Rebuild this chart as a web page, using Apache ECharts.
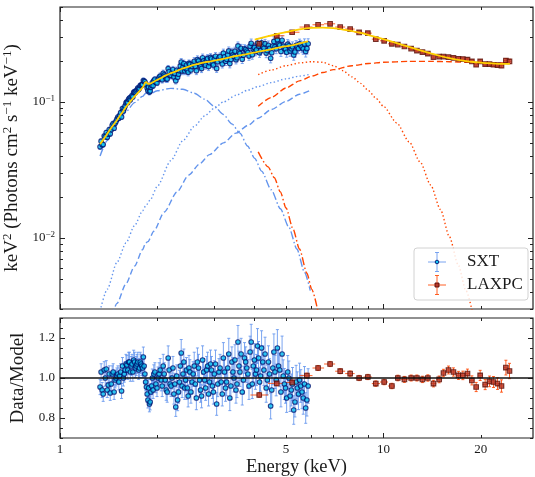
<!DOCTYPE html>
<html><head><meta charset="utf-8">
<script src="https://cdn.jsdelivr.net/npm/echarts@6/dist/echarts.min.js"></script>
<style>html,body{margin:0;padding:0;background:#fff}#c{width:535px;height:477px}</style>
</head><body><div id="c"></div>
<script>
// ---------------- data ----------------
const sxtE = [1.33,1.34,1.35,1.36,1.37,1.38,1.39,1.40,1.41,1.42,1.43,1.44,1.45,1.46,1.47,1.48,1.49,1.50,1.51,1.52,1.53,1.54,1.55,1.56,1.57,1.58,1.59,1.60,1.61,1.62,1.63,1.64,1.65,1.66,1.67,1.68,1.69,1.70,1.71,1.72,1.73,1.74,1.75,1.76,1.77,1.78,1.79,1.80,1.81,1.82,1.83,1.84,1.85,1.86,1.87,1.88,1.89,1.90,1.91,1.92,1.93,1.94,1.95,
1.965,1.98,1.995,2.01,2.025,2.04,2.055,2.07,2.085,2.10,2.115,2.13,2.145,2.16,2.175,2.19,2.205,2.22,2.235,2.25,2.265,2.28,2.295,2.31,2.325,2.34,2.355,2.37,2.385,2.40,2.415,2.43,2.445,2.46,2.475,2.49,2.505,2.52,
2.54,2.56,2.58,2.60,2.62,2.64,2.66,2.68,2.70,2.72,2.74,2.76,2.78,2.80,2.82,2.84,2.86,2.88,2.90,2.92,2.94,2.96,2.98,3.00,
3.025,3.05,3.075,3.10,3.125,3.15,3.175,3.20,3.225,3.25,3.275,3.30,3.325,3.35,3.375,3.40,3.425,3.45,3.475,3.50,3.525,3.55,3.575,3.60,
3.63,3.66,3.69,3.72,3.75,3.78,3.81,3.84,3.87,3.90,3.93,3.96,3.99,4.02,4.05,4.08,4.11,4.14,4.17,4.20,
4.235,4.27,4.305,4.34,4.375,4.41,4.445,4.48,4.515,4.55,4.585,4.62,
4.66,4.70,4.74,4.78,4.82,4.86,4.90,4.94,4.98,5.02,5.06,5.10,
5.145,5.19,5.235,5.28,5.325,5.37,5.415,5.46,5.505,5.55,
5.60,5.65,5.70,5.75,5.80,5.85];
const sxtFlux = [0.0468,0.0515,0.0484,0.0486,0.0562,0.0555,0.0596,0.0550,0.0579,0.0627,0.0583,0.0626,0.0673,0.0695,0.0642,0.0698,0.0720,0.0747,0.0775,0.0760,0.0798,0.0834,0.0776,0.0896,0.0860,0.0898,0.0936,0.0984,0.1001,0.0993,0.1048,0.1069,0.1040,0.1087,0.1113,0.1092,0.1177,0.1188,0.1176,0.1203,0.1231,0.1264,0.1238,0.1265,0.1318,0.1327,0.1336,0.1344,0.1437,0.1420,0.1408,0.1362,0.1337,0.1270,0.1210,0.1292,0.1183,0.1206,0.1283,0.1330,0.1390,0.1316,0.1438,
0.1468,0.1397,0.1382,0.1470,0.1510,0.1550,0.1490,0.1459,0.1627,0.1581,0.1544,0.1476,0.1474,0.1760,0.1674,0.1571,0.1565,0.1640,0.1733,0.1527,0.1620,0.1436,0.1712,0.1522,0.1600,0.1695,0.1844,0.1969,0.1690,0.1805,0.1917,0.1691,0.1772,0.1872,0.1720,0.1656,0.1922,0.1895,
0.1721,0.1823,0.1907,0.1993,0.1828,0.1701,0.2052,0.2006,0.1901,0.1814,0.1761,0.2115,0.2009,0.1940,0.1867,0.2049,0.2094,0.1822,0.1945,0.2129,0.2080,0.1930,0.1874,0.2060,
0.2167,0.1766,0.1979,0.2112,0.2158,0.2019,0.1904,0.2288,0.2153,0.1995,0.2063,0.2216,0.2374,0.1917,0.2054,0.2322,0.2220,0.2160,0.2365,0.2049,0.2119,0.2584,0.2332,0.2276,
0.2481,0.2065,0.2208,0.2464,0.2430,0.2373,0.2310,0.2179,0.2576,0.2702,0.2231,0.2449,0.2523,0.2366,0.2423,0.2714,0.2580,0.2303,0.2384,0.2726,
0.2570,0.2486,0.2688,0.2290,0.2391,0.2614,0.2479,0.2098,0.2303,0.2583,0.2791,0.2554,
0.2465,0.2875,0.2661,0.2621,0.2353,0.2845,0.2576,0.2483,0.2442,0.2322,0.2663,0.2590,
0.2371,0.2463,0.2551,0.2218,0.2332,0.2607,0.2541,0.2475,0.2673,0.2602,
0.2534,0.2466,0.2672,0.2355,0.2474,0.2678];
const sxtRatio = [0.955,1.03,0.94,0.92,1.04,1.0,1.045,0.94,0.965,1.02,0.925,0.97,1.02,1.03,0.93,0.99,1.0,1.01,1.02,0.98,1.01,1.03,0.935,1.06,1.0,1.02,1.04,1.07,1.065,1.04,1.08,1.08,1.03,1.06,1.07,1.03,1.09,1.08,1.05,1.06,1.07,1.08,1.04,1.05,1.08,1.07,1.06,1.05,1.105,1.06,1.02,0.98,0.955,0.92,0.89,0.95,0.87,0.88,0.93,0.96,1.0,0.94,1.02,
1.03,0.97,0.95,1.0,1.02,1.04,0.99,0.96,1.06,1.02,0.99,0.94,0.93,1.10,1.04,0.97,0.96,1.0,1.05,0.92,0.97,0.855,1.01,0.89,0.93,0.98,1.06,1.125,0.96,1.02,1.08,0.95,0.99,1.04,0.95,0.91,1.05,1.03,
0.93,0.98,1.02,1.06,0.97,0.90,1.08,1.05,0.99,0.94,0.91,1.09,1.03,0.99,0.95,1.04,1.06,0.92,0.98,1.07,1.04,0.96,0.93,1.02,
1.07,0.87,0.97,1.03,1.05,0.98,0.92,1.10,1.03,0.95,0.98,1.05,1.12,0.90,0.96,1.08,1.03,1.0,1.09,0.94,0.97,1.18,1.06,1.03,
1.12,0.93,0.99,1.10,1.08,1.05,1.02,0.96,1.13,1.18,0.97,1.06,1.09,1.02,1.04,1.16,1.10,0.98,1.01,1.15,
1.08,1.04,1.12,0.95,0.99,1.08,1.02,0.86,0.94,1.05,1.13,1.03,
0.99,1.15,1.06,1.04,0.93,1.12,1.01,0.97,0.95,0.90,1.03,1.0,
0.91,0.94,0.97,0.84,0.88,0.98,0.95,0.92,0.99,0.96,
0.93,0.90,0.97,0.85,0.89,0.96];
// SXT relative 1-sigma errors per energy band (upper band edges in keV, last band open)
const sxtErrBandTop = [1.6, 2.0, 2.3, 2.6, 3.2, 3.9, 4.5, 5.1, 5.6];
const sxtErrBandVal = [0.04, 0.045, 0.055, 0.06, 0.065, 0.07, 0.075, 0.08, 0.085, 0.09];

const laxpcE = [4.13,4.68,5.22,5.80,6.28,6.84,7.35,7.89,8.41,8.95,9.47,10.05,10.62,11.08,11.61,12.18,12.69,13.20,13.72,14.28,14.87,15.33,15.89,16.46,17.06,17.60,18.19,18.77,19.35,19.91,20.63,21.28,21.89,22.53,23.17,23.91,24.53];
const laxpcFlux = [0.268,0.307,0.326,0.356,0.370,0.376,0.356,0.344,0.325,0.321,0.290,0.282,0.268,0.264,0.256,0.247,0.239,0.233,0.227,0.214,0.216,0.216,0.214,0.211,0.208,0.207,0.205,0.199,0.188,0.199,0.190,0.190,0.188,0.187,0.185,0.202,0.199];
const laxpcRatio = [0.915,0.973,0.978,1.012,1.05,1.07,1.034,1.022,1.0,1.005,0.972,0.98,0.96,1.0,0.993,1.0,1.0,0.993,1.0,0.972,0.993,1.025,1.04,1.03,1.013,1.013,1.022,0.988,0.955,1.013,0.967,0.983,0.98,0.972,0.96,1.052,1.035];
const laxpcRelErr = [0.012,0.012,0.012,0.012,0.012,0.012,0.012,0.013,0.013,0.013,0.014,0.014,0.014,0.014,0.015,0.015,0.015,0.016,0.016,0.017,0.017,0.018,0.019,0.02,0.02,0.021,0.022,0.023,0.024,0.025,0.026,0.027,0.028,0.03,0.032,0.035,0.037];

// total model curves
const sxtModelE = [1.33,1.37,1.41,1.45,1.49,1.53,1.57,1.61,1.65,1.69,1.73,1.77,1.81,1.83,1.85,1.87,1.89,1.93,1.98,2.04,2.10,2.19,2.28,2.37,2.46,2.56,2.68,2.80,2.92,3.05,3.20,3.35,3.50,3.66,3.84,4.02,4.20,4.41,4.62,4.86,5.10,5.37,5.65,5.85];
const sxtModelF = [0.049,0.054,0.060,0.066,0.072,0.079,0.086,0.094,0.101,0.108,0.115,0.122,0.130,0.138,0.140,0.136,0.136,0.139,0.144,0.149,0.155,0.162,0.168,0.175,0.180,0.186,0.191,0.196,0.199,0.203,0.208,0.213,0.218,0.222,0.227,0.232,0.237,0.242,0.248,0.254,0.259,0.266,0.274,0.279];
const laxpcModelE = [4.0,4.5,5.0,5.5,6.0,6.5,7.0,7.5,8.0,8.5,9.0,9.5,10,11,12,13,14,15,16,17,18,19,20,21,22,23,24,24.6];
const laxpcModelF = [0.288,0.309,0.327,0.342,0.351,0.353,0.349,0.341,0.332,0.322,0.311,0.300,0.290,0.271,0.254,0.240,0.228,0.218,0.210,0.204,0.200,0.197,0.195,0.193,0.192,0.191,0.191,0.191];

// model components
const sxtDiskE = [1.33,1.40,1.45,1.53,1.60,1.70,1.80,1.84,1.87,2.0,2.2,2.4,2.6,2.8,3.0,3.2,3.4,3.6,3.8,4.0,4.2,4.5,4.8,5.1,5.4,5.7,5.94];
const sxtDiskF = [0.040,0.052,0.061,0.074,0.085,0.099,0.110,0.116,0.113,0.121,0.126,0.124,0.116,0.105,0.093,0.081,0.069,0.059,0.0475,0.0385,0.031,0.0226,0.0164,0.0120,0.0083,0.0056,0.0041];
const sxtDotE = [1.33,1.40,1.50,1.60,1.70,1.80,1.84,1.90,2.0,2.2,2.4,2.6,2.8,3.0,3.2,3.5,3.8,4.1,4.5,5.0,5.5,5.94];
const sxtDotF = [0.0029,0.0042,0.0066,0.0092,0.0123,0.0158,0.0172,0.0190,0.0240,0.037,0.052,0.066,0.079,0.090,0.100,0.112,0.122,0.130,0.139,0.148,0.155,0.160];
const sxtDashE = [1.45,1.50,1.60,1.70,1.80,1.84,1.87,1.95,2.1,2.3,2.5,2.7,2.9,3.2,3.5,3.8,4.1,4.5,5.0,5.5,5.94];
const sxtDashF = [0.0027,0.0033,0.0046,0.0062,0.0082,0.0092,0.0094,0.0112,0.0155,0.0218,0.029,0.035,0.041,0.050,0.059,0.067,0.076,0.088,0.101,0.114,0.122];
const laxDiskE = [4.1,4.4,4.6,4.8,5.0,5.25,5.5,5.8,6.0,6.3];
const laxDiskF = [0.043,0.0333,0.0277,0.0218,0.0166,0.0117,0.0083,0.0055,0.0042,0.00275];
const laxDotE = [4.1,4.5,5.0,5.5,6.0,6.5,7.0,7.5,8.0,8.5,9.0,9.5,10,11,12,13,14,15,16,17,18,19];
const laxDotF = [0.159,0.172,0.185,0.194,0.198,0.196,0.185,0.170,0.153,0.137,0.121,0.106,0.093,0.070,0.051,0.036,0.0245,0.0162,0.0102,0.0064,0.0041,0.0026];
const laxDashE = [4.1,4.5,5.0,5.5,6.0,6.5,7.0,8.0,9.0,10,12,14,16,18,20,22,24.6];
const laxDashF = [0.093,0.108,0.127,0.143,0.155,0.165,0.173,0.185,0.192,0.196,0.199,0.199,0.198,0.196,0.195,0.194,0.193];

// axis ranges / ticks / labels
const xRange = [1, 29];
const fRange = [0.003, 0.5];
const rRange = [0.7, 1.3];
const xMajor = [1, 10];
const xMinor = [2,3,4,5,6,7,8,9,20];
const xLabels = [1, 5, 10, 20];
const fMajor = [0.01, 0.1];
const fMinor = [0.003,0.004,0.005,0.006,0.007,0.008,0.009,0.02,0.03,0.04,0.05,0.06,0.07,0.08,0.09,0.2,0.3,0.4,0.5];
const rMajor = [0.8, 1.0, 1.2];
const rMinor = [0.7,0.75,0.85,0.9,0.95,1.05,1.1,1.15,1.25,1.3];

// ---------------- styling ----------------
const FONT = 'Liberation Serif';
const TXT = '#1a1a1a';
const AX = '#222';
const BLUE = '#6495ED';
const RED = '#FF4500';
const GOLD = '#FFD000';
const SXT_ERR = 'rgba(100,149,237,0.85)';
const LAX_ERR = 'rgba(255,69,0,0.85)';
const SXT_FILL = '#10c8f4', SXT_EDGE = '#00106e';
const LAX_FILL = '#b8382a', LAX_EDGE = '#5a0c04';

const zip = (a, b) => a.map((v, i) => [v, b[i]]);
function edges(E) {
  const lo = [], hi = [];
  for (let i = 0; i < E.length; i++) {
    const prev = i > 0 ? E[i-1] : E[i] * E[i] / E[i+1];
    const next = i < E.length - 1 ? E[i+1] : E[i] * E[i] / E[i-1];
    lo.push(Math.sqrt(prev * E[i])); hi.push(Math.sqrt(E[i] * next));
  }
  return [lo, hi];
}
function bandLookup(E) {
  return E.map(e => { let k = 0; while (k < sxtErrBandTop.length && e >= sxtErrBandTop[k]) k++; return sxtErrBandVal[k]; });
}
const sxtRelErr = bandLookup(sxtE);
const [sxtLo, sxtHi] = edges(sxtE);
const [laxLo, laxHi] = edges(laxpcE);
const errRows = (E, V, rel, lo, hi) => E.map((e, i) => [e, V[i], V[i]*(1-rel[i]), V[i]*(1+rel[i]), lo[i], hi[i]]);

function errRender(color, cap) {
  return function (params, api) {
    const x = api.value(0), y = api.value(1);
    const a = api.coord([x, api.value(2)]);
    const b = api.coord([x, api.value(3)]);
    const c = api.coord([api.value(4), y]);
    const d = api.coord([api.value(5), y]);
    const st = {stroke: color, lineWidth: 1};
    return {type: 'group', children: [
      {type: 'line', shape: {x1: a[0], y1: a[1], x2: b[0], y2: b[1]}, style: st},
      {type: 'line', shape: {x1: a[0]-cap, y1: a[1], x2: a[0]+cap, y2: a[1]}, style: st},
      {type: 'line', shape: {x1: b[0]-cap, y1: b[1], x2: b[0]+cap, y2: b[1]}, style: st},
      {type: 'line', shape: {x1: c[0], y1: c[1], x2: d[0], y2: d[1]}, style: st}
    ]};
  };
}

function tickAxis(grid, pos, type, range, vals, len, extra) {
  const ax = {
    type: type, gridIndex: grid, position: pos, min: range[0], max: range[1],
    axisLine: {show: false, onZero: false},
    splitLine: {show: false},
    axisTick: {show: true, inside: true, length: len, customValues: vals, lineStyle: {color: AX, width: 1}},
    axisLabel: {show: false},
    silent: true
  };
  if (type === 'log') ax.logBase = 10;
  return Object.assign(ax, extra || {});
}

const supRich = {
  b: {fontSize: 13, fontFamily: FONT, color: TXT},
  s: {fontSize: 9, fontFamily: FONT, color: TXT, padding: [0, 0, 7, 0]}
};
const nameRich = {
  n: {fontSize: 19, fontFamily: FONT, color: TXT},
  s: {fontSize: 13, fontFamily: FONT, color: TXT, padding: [0, 0, 9, 0]}
};

const xAxes = [
  tickAxis(0, 'bottom', 'log', xRange, xMajor, 5),
  tickAxis(0, 'bottom', 'log', xRange, xMinor, 3),
  tickAxis(0, 'top', 'log', xRange, xMajor, 5),
  tickAxis(0, 'top', 'log', xRange, xMinor, 3),
  tickAxis(1, 'bottom', 'log', xRange, xMajor, 5, {
    axisLabel: {show: true, customValues: xLabels, margin: 5, fontSize: 13, fontFamily: FONT, color: TXT,
      formatter: v => String(Math.round(v))},
    name: 'Energy (keV)', nameLocation: 'middle', nameGap: 20,
    nameTextStyle: {fontSize: 18.5, fontFamily: FONT, color: TXT}
  }),
  tickAxis(1, 'bottom', 'log', xRange, xMinor, 3),
  tickAxis(1, 'top', 'log', xRange, xMajor, 5),
  tickAxis(1, 'top', 'log', xRange, xMinor, 3)
];
const yAxes = [
  tickAxis(0, 'left', 'log', fRange, fMajor, 5, {
    axisLabel: {show: true, customValues: fMajor, margin: 5,
      formatter: v => { const p = Math.round(Math.log10(v)); return '{b|10}{s|' + (p < 0 ? '\u2212' : '') + Math.abs(p) + '}'; },
      rich: supRich},
    name: '{n|keV}{s|2}{n| (Photons cm}{s|2}{n| s}{s|\u22121}{n| keV}{s|\u22121}{n|)}',
    nameLocation: 'middle', nameGap: 28, nameRotate: 90,
    nameTextStyle: {fontSize: 19, fontFamily: FONT, color: TXT, rich: nameRich}
  }),
  tickAxis(0, 'left', 'log', fRange, fMinor, 3),
  tickAxis(0, 'right', 'log', fRange, fMajor, 5),
  tickAxis(0, 'right', 'log', fRange, fMinor, 3),
  tickAxis(1, 'left', 'value', rRange, rMajor, 5, {
    axisLabel: {show: true, customValues: rMajor, margin: 5, fontSize: 13, fontFamily: FONT, color: TXT,
      formatter: v => v.toFixed(1)},
    name: 'Data/Model', nameLocation: 'middle', nameGap: 28, nameRotate: 90,
    nameTextStyle: {fontSize: 19, fontFamily: FONT, color: TXT}
  }),
  tickAxis(1, 'left', 'value', rRange, rMinor, 3),
  tickAxis(1, 'right', 'value', rRange, rMajor, 5),
  tickAxis(1, 'right', 'value', rRange, rMinor, 3)
];

function compLine(E, F, color, dash, width) {
  return {type: 'line', xAxisIndex: 0, yAxisIndex: 0, data: zip(E, F), symbol: 'none', showSymbol: false,
    smooth: 0.25, smoothMonotone: 'x', clip: true, silent: true, z: 2,
    lineStyle: {color: color, width: width || 1.4, type: dash}};
}
function markers(xi, yi, E, V, sym, fill, edge) {
  return {type: 'scatter', xAxisIndex: xi, yAxisIndex: yi, data: zip(E, V), symbol: sym, symbolSize: 4.6,
    itemStyle: {color: fill, borderColor: edge, borderWidth: 1.1}, silent: true, z: 4};
}
function errSeries(xi, yi, rows, color, extra) {
  return Object.assign({type: 'custom', xAxisIndex: xi, yAxisIndex: yi, clip: true, silent: true, z: 3,
    data: rows, encode: {x: 0, y: 1}, renderItem: errRender(color, 1.5)}, extra || {});
}

const series = [
  compLine(sxtDiskE, sxtDiskF, BLUE, [8, 2.5, 1.5, 2.5]),
  compLine(sxtDotE, sxtDotF, BLUE, [1.4, 2.4]),
  compLine(sxtDashE, sxtDashF, BLUE, [6, 3]),
  compLine(laxDiskE, laxDiskF, RED, [8, 2.5, 1.5, 2.5]),
  compLine(laxDotE, laxDotF, RED, [1.4, 2.4]),
  compLine(laxDashE, laxDashF, RED, [6, 3]),
  errSeries(0, 0, errRows(sxtE, sxtFlux, sxtRelErr, sxtLo, sxtHi), SXT_ERR),
  errSeries(0, 0, errRows(laxpcE, laxpcFlux, laxpcRelErr, laxLo, laxHi), LAX_ERR),
  markers(0, 0, sxtE, sxtFlux, 'circle', SXT_FILL, SXT_EDGE),
  markers(0, 0, laxpcE, laxpcFlux, 'rect', LAX_FILL, LAX_EDGE),
  {type: 'line', xAxisIndex: 0, yAxisIndex: 0, data: zip(sxtModelE, sxtModelF), symbol: 'none', smooth: 0.2,
    lineStyle: {color: GOLD, width: 1.8}, silent: true, z: 5},
  {type: 'line', xAxisIndex: 0, yAxisIndex: 0, data: zip(laxpcModelE, laxpcModelF), symbol: 'none', smooth: 0.2,
    lineStyle: {color: GOLD, width: 1.8}, silent: true, z: 5},
  // residual panel
  errSeries(4, 4, errRows(sxtE, sxtRatio, sxtRelErr, sxtLo, sxtHi), SXT_ERR, {
    markLine: {silent: true, symbol: 'none', label: {show: false}, animation: false,
      lineStyle: {color: '#111', width: 1.5, type: 'solid'}, data: [{yAxis: 1}]}}),
  errSeries(4, 4, errRows(laxpcE, laxpcRatio, laxpcRelErr, laxLo, laxHi), LAX_ERR),
  markers(4, 4, sxtE, sxtRatio, 'circle', SXT_FILL, SXT_EDGE),
  markers(4, 4, laxpcE, laxpcRatio, 'rect', LAX_FILL, LAX_EDGE)
];

// legend drawn as graphic (box, error-bar icons, text)
function legendIcon(cx, cy, color, marker) {
  const st = {stroke: color, lineWidth: 1};
  return [
    {type: 'line', shape: {x1: cx-9, y1: cy, x2: cx+9, y2: cy}, style: st, z: 101},
    {type: 'line', shape: {x1: cx, y1: cy-9.5, x2: cx, y2: cy+9.5}, style: st, z: 101},
    {type: 'line', shape: {x1: cx-2, y1: cy-9.5, x2: cx+2, y2: cy-9.5}, style: st, z: 101},
    {type: 'line', shape: {x1: cx-2, y1: cy+9.5, x2: cx+2, y2: cy+9.5}, style: st, z: 101},
    marker
  ];
}
const graphic = [
  {type: 'rect', shape: {x: 414, y: 248, width: 114, height: 52, r: 3},
    style: {fill: 'rgba(255,255,255,0.85)', stroke: '#d2d2d2', lineWidth: 1}, z: 100},
  ...legendIcon(437, 262, SXT_ERR, {type: 'circle', shape: {cx: 437, cy: 262, r: 1.8},
    style: {fill: SXT_FILL, stroke: SXT_EDGE, lineWidth: 0.9}, z: 102}),
  ...legendIcon(437, 285, LAX_ERR, {type: 'rect', shape: {x: 435, y: 283, width: 4, height: 4},
    style: {fill: LAX_FILL, stroke: LAX_EDGE, lineWidth: 0.9}, z: 102}),
  {type: 'text', x: 467, y: 262, style: {text: 'SXT', fill: TXT, font: '17px "Liberation Serif"', verticalAlign: 'middle', align: 'left'}, z: 102},
  {type: 'text', x: 467, y: 285, style: {text: 'LAXPC', fill: TXT, font: '17px "Liberation Serif"', verticalAlign: 'middle', align: 'left'}, z: 102}
];

const chart = echarts.init(document.getElementById('c'), null, {renderer: 'canvas'});
chart.setOption({
  animation: false,
  backgroundColor: '#fff',
  grid: [
    {left: 60, right: 2, top: 7, height: 302, show: true, borderColor: AX, borderWidth: 1.2, backgroundColor: 'transparent', containLabel: false, outerBoundsMode: 'none'},
    {left: 60, right: 2, top: 318, height: 120, show: true, borderColor: AX, borderWidth: 1.2, backgroundColor: 'transparent', containLabel: false, outerBoundsMode: 'none'}
  ],
  xAxis: xAxes,
  yAxis: yAxes,
  series: series,
  graphic: graphic
});
</script></body></html>
